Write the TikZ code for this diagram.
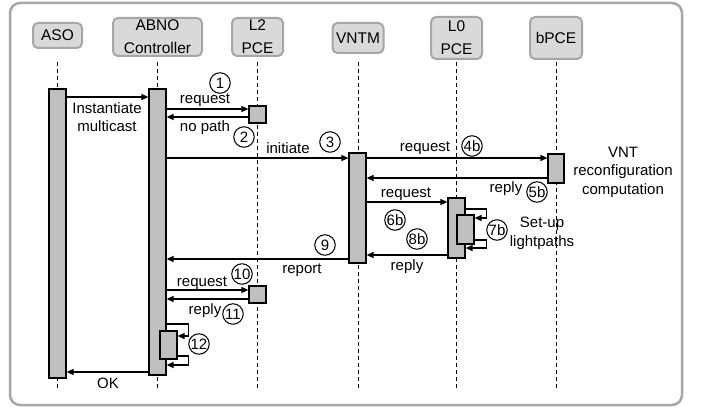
\documentclass[tikz,border=0pt]{standalone}
\usepackage{fontspec}
\setmainfont{Liberation Sans}
\usetikzlibrary{arrows.meta}
\definecolor{framegray}{HTML}{A6A6A6}
\definecolor{headfill}{HTML}{D9D9D9}
\definecolor{barfill}{HTML}{C0C0C0}
\begin{document}
\begin{tikzpicture}[x=1pt,y=-1pt,
  head/.style={draw=framegray, line width=2pt, fill=headfill, rounded corners=5pt, align=center, inner sep=0pt, font=\fontsize{15.5}{23}\selectfont},
  bar/.style={draw=black, line width=1.2pt, fill=barfill, inner sep=0pt},
  life/.style={draw=black, line width=0.9pt, dash pattern=on 4pt off 3pt},
  msg/.style={draw=black, line width=1.3pt, -{Triangle[length=7pt,width=6pt]}},
  lbl/.style={font=\fontsize{15}{18.5}\selectfont, inner sep=0pt, align=center},
  num/.style={draw=black, line width=1pt, circle, minimum size=20.5pt, inner sep=0pt, font=\fontsize{15}{15}\selectfont},
]
\useasboundingbox (0,0) rectangle (702,409);
\draw[framegray, line width=2.5pt, rounded corners=10pt] (10,3) rectangle (682,405);

% headers
\node[head, minimum width=49pt, minimum height=25pt] (aso) at (57.5,35.5) {ASO};
\node[head, minimum width=89pt, minimum height=38pt] (abno) at (157.5,37) {ABNO\\Controller};
\node[head, minimum width=51pt, minimum height=38pt] (l2) at (257.5,37) {L2\\PCE};
\node[head, minimum width=51pt, minimum height=30pt] (vntm) at (358,38) {VNTM};
\node[head, minimum width=51pt, minimum height=42pt] (l0) at (456.5,38) {L0\\PCE};
\node[head, minimum width=52pt, minimum height=42pt] (bpce) at (556,38) {bPCE};

% lifelines
\foreach \n in {aso,abno,l2,vntm,l0,bpce}{
  \draw[life] (\n.south |- 0,62) -- (\n.south |- 0,390);
}

% activation bars
\node[bar, minimum width=17pt, minimum height=289pt] (asobar) at (57.5,233.5) {};
\node[bar, minimum width=17pt, minimum height=286pt] (abnobar) at (157.5,232) {};
\node[bar, minimum width=17pt, minimum height=17pt] (l2boxa) at (257.5,114.5) {};
\node[bar, minimum width=17pt, minimum height=17pt] (l2boxb) at (257.5,294.5) {};
\node[bar, minimum width=17pt, minimum height=110pt] (vntmbar) at (357.5,208) {};
\node[bar, minimum width=16pt, minimum height=29pt] (bpcebox) at (556,168.5) {};
\node[bar, minimum width=17pt, minimum height=60pt] (l0bar) at (456.5,228) {};
\node[bar, minimum width=17pt, minimum height=29pt] (l0inner) at (465.5,229.5) {};
\node[bar, minimum width=17pt, minimum height=28pt] (abnoinner) at (168.5,345) {};

% messages
\draw[msg] (asobar.east |- 0,97) -- (abnobar.west |- 0,97);
\draw[msg] (abnobar.east |- 0,109) -- (l2boxa.west |- 0,109);
\draw[msg] (l2boxa.west |- 0,117) -- (abnobar.east |- 0,117);
\draw[msg] (abnobar.east |- 0,158) -- (vntmbar.west |- 0,158);
\draw[msg] (vntmbar.east |- 0,158) -- (bpcebox.west |- 0,158);
\draw[msg] (bpcebox.west |- 0,178) -- (vntmbar.east |- 0,178);
\draw[msg] (vntmbar.east |- 0,202) -- (l0bar.west |- 0,202);
\draw[msg] (l0bar.east |- 0,209) -- ++(21,0) |- (l0inner.east |- 0,218);
\draw[msg] (l0inner.east |- 0,240) -- ++(12,0) |- (l0bar.east |- 0,248);
\draw[msg] (l0bar.west |- 0,255) -- (vntmbar.east |- 0,255);
\draw[msg] (vntmbar.west |- 0,259) -- (abnobar.east |- 0,259);
\draw[msg] (abnobar.east |- 0,290) -- (l2boxb.west |- 0,290);
\draw[msg] (l2boxb.west |- 0,299) -- (abnobar.east |- 0,299);
\draw[msg] (abnobar.east |- 0,324) -- ++(22,0) |- (abnoinner.east |- 0,336);
\draw[msg] (abnoinner.east |- 0,356) -- ++(11,0) |- (abnobar.east |- 0,365);
\draw[msg] (abnobar.west |- 0,372) -- (asobar.east |- 0,372);

% labels
\node[lbl] (tinst) at (107,117) {Instantiate\\multicast};
\node[lbl] (treq1) at (205,100) {request};
\node[lbl] (tnop) at (205,128) {no path};
\node[lbl] (tinit) at (288,148) {initiate};
\node[lbl] (treq4) at (425,148) {request};
\node[lbl] (trep5) at (506,189) {reply};
\node[lbl] (tvnt) at (623,172) {VNT\\reconfiguration\\computation};
\node[lbl] (treq6) at (406,194) {request};
\node[lbl] (tset) at (542,233.5) {Set-up\\lightpaths};
\node[lbl] (trep8) at (407,267) {reply};
\node[lbl] (trep9) at (302,270) {report};
\node[lbl] (treq10) at (202,283) {request};
\node[lbl] (trep11) at (205,311) {reply};
\node[lbl] (tok) at (108,383) {OK};

% step numbers
\node[num] (n1) at (220,83) {1};
\node[num] (n2) at (244,137) {2};
\node[num] (n3) at (330,142) {3};
\node[num] (n4) at (472,146) {4b};
\node[num] (n5) at (537,192) {5b};
\node[num] (n6) at (395,220) {6b};
\node[num] (n7) at (497,230) {7b};
\node[num] (n8) at (417,239) {8b};
\node[num] (n9) at (325,245) {9};
\node[num] (n10) at (242,274) {10};
\node[num] (n11) at (233,314) {11};
\node[num] (n12) at (199,344) {12};
\end{tikzpicture}
\end{document}
